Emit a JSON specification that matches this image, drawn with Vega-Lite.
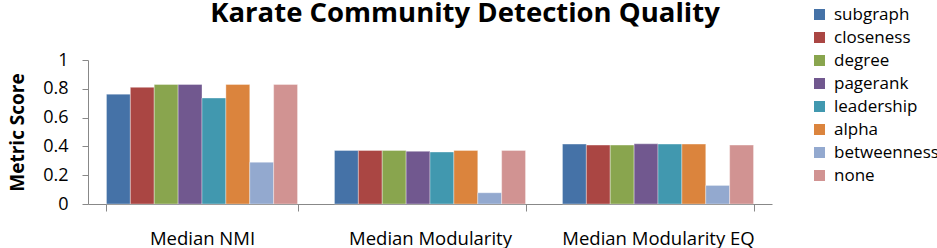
{
  "$schema": "https://vega.github.io/schema/vega-lite/v6.json",
  "autosize": "none",
  "padding": {"left": 88, "top": 60, "right": 165, "bottom": 44},
  "width": 684,
  "height": 144,
  "background": "white",
  "config": {"font": "Open Sans", "view": {"stroke": null}},
  "title": {
    "text": "Karate Community Detection Quality",
    "fontSize": 27.5,
    "fontWeight": "bold",
    "font": "Open Sans",
    "color": "black",
    "anchor": "middle",
    "frame": "group",
    "baseline": "alphabetic",
    "offset": -43,
    "dx": 35
  },
  "data": {
    "values": [
      {"category": "Median NMI", "method": "subgraph", "value": 0.763},
      {"category": "Median NMI", "method": "closeness", "value": 0.81},
      {"category": "Median NMI", "method": "degree", "value": 0.83},
      {"category": "Median NMI", "method": "pagerank", "value": 0.83},
      {"category": "Median NMI", "method": "leadership", "value": 0.736},
      {"category": "Median NMI", "method": "alpha", "value": 0.83},
      {"category": "Median NMI", "method": "betweenness", "value": 0.29},
      {"category": "Median NMI", "method": "none", "value": 0.83},
      {"category": "Median Modularity", "method": "subgraph", "value": 0.372},
      {"category": "Median Modularity", "method": "closeness", "value": 0.372},
      {"category": "Median Modularity", "method": "degree", "value": 0.372},
      {"category": "Median Modularity", "method": "pagerank", "value": 0.366},
      {"category": "Median Modularity", "method": "leadership", "value": 0.361},
      {"category": "Median Modularity", "method": "alpha", "value": 0.372},
      {"category": "Median Modularity", "method": "betweenness", "value": 0.078},
      {"category": "Median Modularity", "method": "none", "value": 0.372},
      {"category": "Median Modularity EQ", "method": "subgraph", "value": 0.416},
      {"category": "Median Modularity EQ", "method": "closeness", "value": 0.409},
      {"category": "Median Modularity EQ", "method": "degree", "value": 0.409},
      {"category": "Median Modularity EQ", "method": "pagerank", "value": 0.418},
      {"category": "Median Modularity EQ", "method": "leadership", "value": 0.416},
      {"category": "Median Modularity EQ", "method": "alpha", "value": 0.416},
      {"category": "Median Modularity EQ", "method": "betweenness", "value": 0.129},
      {"category": "Median Modularity EQ", "method": "none", "value": 0.409}
    ]
  },
  "mark": {"type": "bar", "stroke": "white", "strokeOpacity": 0.35, "strokeWidth": 1},
  "encoding": {
    "x": {
      "field": "category",
      "type": "nominal",
      "sort": ["Median NMI", "Median Modularity", "Median Modularity EQ"],
      "scale": {"paddingInner": 0.162, "paddingOuter": 0.081},
      "axis": {
        "title": null,
        "labelAngle": 0,
        "labelFontSize": 18.5,
        "labelColor": "black",
        "labelPadding": 18,
        "labelBaseline": "top",
        "labelLimit": 300,
        "tickBand": "extent",
        "tickSize": 7,
        "tickColor": "#888888",
        "domainColor": "#888888",
        "grid": false
      }
    },
    "xOffset": {
      "field": "method",
      "type": "nominal",
      "sort": ["subgraph", "closeness", "degree", "pagerank", "leadership", "alpha", "betweenness", "none"],
      "scale": {"paddingInner": 0, "paddingOuter": 0}
    },
    "y": {
      "field": "value",
      "type": "quantitative",
      "scale": {"domain": [0, 1], "nice": false},
      "axis": {
        "title": "Metric Score",
        "titleFontSize": 19,
        "titleFontWeight": "bold",
        "titleColor": "black",
        "titlePadding": 15,
        "values": [0, 0.2, 0.4, 0.6, 0.8, 1],
        "format": "~g",
        "labelFontSize": 18,
        "labelColor": "black",
        "labelPadding": 14,
        "tickSize": 6,
        "tickColor": "#888888",
        "domainColor": "#888888",
        "grid": false
      }
    },
    "color": {
      "field": "method",
      "type": "nominal",
      "scale": {
        "domain": ["subgraph", "closeness", "degree", "pagerank", "leadership", "alpha", "betweenness", "none"],
        "range": ["#4572A7", "#AA4643", "#89A54E", "#71588F", "#4198AF", "#DB843D", "#93A9CF", "#D19392"]
      },
      "legend": {
        "title": null,
        "orient": "none",
        "legendX": 723,
        "legendY": -54,
        "symbolType": "square",
        "symbolSize": 121,
        "symbolStrokeWidth": 0,
        "labelFontSize": 17,
        "labelColor": "black",
        "labelOffset": 6,
        "rowPadding": 5,
        "labelLimit": 300
      }
    }
  }
}
